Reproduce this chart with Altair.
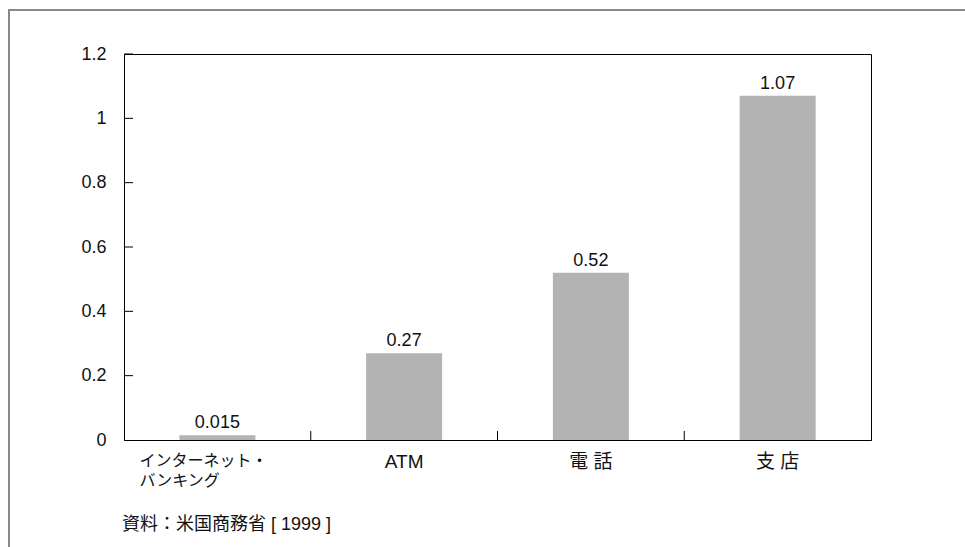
import altair as alt
import pandas as pd

categories = ["インターネット・バンキング", "ATM", "電 話", "支 店"]
values = [0.015, 0.27, 0.52, 1.07]
value_labels = ["0.015", "0.27", "0.52", "1.07"]
y_ticks = [0.2, 0.4, 0.6, 0.8, 1.0, 1.2]
source_note = "資料：米国商務省 [ 1999 ]"

W, H = 747, 386
FONT = "Liberation Sans, Arial, Noto Sans CJK JP"

df = pd.DataFrame({"cat": categories, "v": values, "lab": value_labels})
ytick_df = pd.DataFrame({"t": y_ticks})
xtick_df = pd.DataFrame({"cat": categories[1:]})
one = pd.DataFrame({"a": [0]})

xscale = alt.Scale(domain=categories, paddingInner=0, paddingOuter=0)
yscale = alt.Scale(domain=[0, 1.2])

first = categories[0]
is_first = f"datum.value == '{first}'"
x_axis = alt.Axis(
    title=None, ticks=False, domain=True, domainColor="#000",
    labelAngle=0, labelFont=FONT, labelColor="#111",
    labelFontSize={"condition": {"test": is_first, "value": 16}, "value": 19},
    labelPadding=12, labelLineHeight=20, labelBaseline="top",
    labelExpr=f"{is_first} ? ['インターネット・', 'バンキング'] : datum.label",
    labelAlign={"condition": {"test": is_first, "value": "left"}, "value": "center"},
    labelOffset={"condition": {"test": is_first, "value": -78}, "value": 0},
)
y_axis = alt.Axis(
    title=None, ticks=False, domain=False, grid=False, values=[0, 0.2, 0.4, 0.6, 0.8, 1.0, 1.2],
    labelFontSize=18, labelFont=FONT, labelColor="#111", labelPadding=18,
    labelExpr="datum.value == 0 ? '0' : datum.value == 1 ? '1' : format(datum.value, '.1f')",
)

bars = alt.Chart(df).mark_bar(color="#b3b3b3", size=76).encode(
    x=alt.X("cat:N", scale=xscale, axis=x_axis, sort=categories),
    y=alt.Y("v:Q", scale=yscale, axis=y_axis),
)

text = alt.Chart(df).mark_text(
    baseline="bottom", dy=-3, fontSize=18, font=FONT, color="#111"
).encode(
    x=alt.X("cat:N", scale=xscale, sort=categories),
    y=alt.Y("v:Q", scale=yscale),
    text="lab:N",
)

yticks = alt.Chart(ytick_df).mark_rule(color="#000", strokeWidth=1).encode(
    y=alt.Y("t:Q", scale=yscale), x=alt.value(0), x2=alt.value(9)
)

xticks = alt.Chart(xtick_df).mark_rule(color="#000", strokeWidth=1, xOffset=-W / 8).encode(
    x=alt.X("cat:N", scale=xscale, sort=categories), y=alt.value(H - 9), y2=alt.value(H)
)

note = alt.Chart(one).mark_text(
    align="left", baseline="middle", fontSize=18, font=FONT, color="#111"
).encode(x=alt.value(-2), y=alt.value(471), text=alt.value(source_note))

border_left = alt.Chart(one).mark_rule(color="#888", strokeWidth=2).encode(
    x=alt.value(-115), y=alt.value(-45), y2=alt.value(H + 120)
)
border_top = alt.Chart(one).mark_rule(color="#888", strokeWidth=2).encode(
    y=alt.value(-44), x=alt.value(-116), x2=alt.value(W + 100)
)

chart = alt.layer(border_left, border_top, bars, text, yticks, xticks, note).properties(
    width=W, height=H,
    autosize=alt.AutoSizeParams(type="none"),
    padding={"left": 124, "top": 54, "right": 94, "bottom": 107},
    background="white",
).configure_view(stroke="#000", strokeWidth=1)

chart.save("out.html", embed_options={"renderer": "svg", "actions": False})
